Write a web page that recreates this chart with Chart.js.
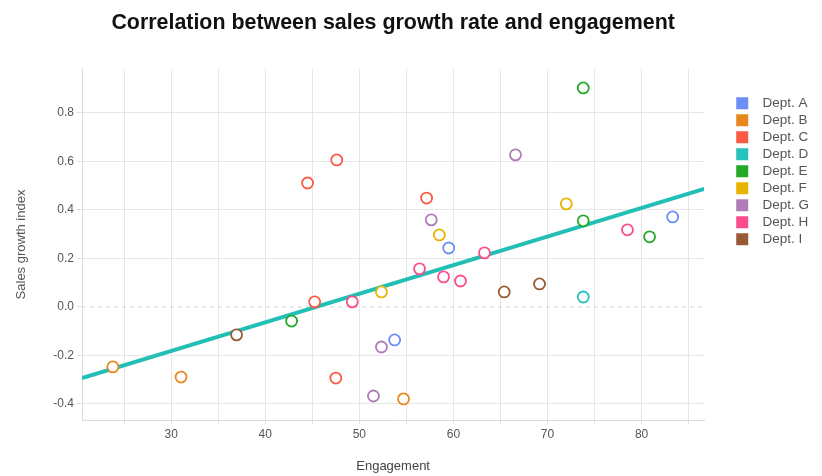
<!DOCTYPE html>
<html>
<head>
<meta charset="utf-8">
<script src="https://cdn.jsdelivr.net/npm/chart.js@4"></script>
<style>
  html, body { margin: 0; padding: 0; background: #fff; }
  #wrap { width: 822px; height: 476px; }
</style>
</head>
<body>
<div id="wrap"><canvas id="scatterChart"></canvas></div>
<script>
// Departamentos y colores
var depts = ['Dept. A', 'Dept. B', 'Dept. C', 'Dept. D', 'Dept. E', 'Dept. F', 'Dept. G', 'Dept. H', 'Dept. I'];
var colors = ['#6b8ff7', '#e8871e', '#fb5a45', '#26c2bd', '#23a828', '#e8b400', '#b07cb8', '#fb4d8e', '#985a36'];

// Engagement (x) por departamento
var engagement = [
    [59.5, 53.75, 83.3],
    [23.8, 31.05, 54.7],
    [44.5, 47.6, 57.15, 45.25, 47.5],
    [73.8],
    [73.8, 73.8, 80.85, 42.8],
    [58.5, 52.35, 72.0],
    [57.65, 66.6, 52.35, 51.5],
    [56.4, 58.95, 60.75, 63.3, 49.25, 78.5],
    [36.95, 65.4, 69.15]
];

// Sales growth index (y) por departamento
var salesIndex = [
    [0.243, -0.136, 0.371],
    [-0.247, -0.289, -0.379],
    [0.511, 0.606, 0.449, 0.021, -0.293],
    [0.041],
    [0.903, 0.355, 0.289, -0.058],
    [0.297, 0.062, 0.425],
    [0.359, 0.627, -0.165, -0.367],
    [0.157, 0.124, 0.107, 0.223, 0.021, 0.318],
    [-0.115, 0.062, 0.095]
];

// Linea de tendencia y rango de ejes
var trendX = [20.52, 86.66];
var trendY = [-0.293, 0.487];
var xRange = [20.52, 86.66];
var yRange = [-0.466, 0.981];

document.addEventListener("DOMContentLoaded", function() {
    var datasets = depts.map(function(name, i) {
        return {
            label: name,
            data: engagement[i].map(function(x, j) { return {x: x, y: salesIndex[i][j]}; }),
            borderColor: colors[i],
            backgroundColor: '#ffffff',
            pointRadius: 5.5,
            pointHoverRadius: 5.5,
            pointBorderWidth: 1.8,
            showLine: false,
            order: 0
        };
    });

    datasets.push({
        label: 'trend',
        type: 'line',
        data: trendX.map(function(x, j) { return {x: x, y: trendY[j]}; }),
        borderColor: '#22bfb6',
        borderWidth: 4,
        pointRadius: 0,
        fill: false,
        order: 1
    });

    datasets.push({
        label: 'zero',
        type: 'line',
        data: xRange.map(function(x) { return {x: x, y: 0}; }),
        borderColor: '#d6d6d6',
        borderWidth: 1,
        borderDash: [4, 4],
        pointRadius: 0,
        fill: false,
        order: 2
    });

    var font = "'Liberation Sans', Arial, sans-serif";

    new Chart(document.getElementById('scatterChart'), {
        type: 'scatter',
        data: { datasets: datasets },
        options: {
            responsive: true,
            maintainAspectRatio: false,
            animation: false,
            layout: { padding: { right: 3 } },
            plugins: {
                tooltip: { enabled: false },
                title: {
                    display: true,
                    fullSize: false,
                    text: 'Correlation between sales growth rate and engagement',
                    color: '#111',
                    font: { family: font, size: 21.4, weight: 'bold' },
                    padding: { top: 10, bottom: 33.3 }
                },
                legend: {
                    position: 'right',
                    align: 'start',
                    fullSize: false,
                    title: { display: true, text: ' ', font: { size: 10 }, padding: { top: 0, bottom: 12 } },
                    labels: {
                        boxWidth: 12,
                        boxHeight: 12,
                        padding: 3.5,
                        color: '#555',
                        font: { family: font, size: 13.5 },
                        generateLabels: function(chart) {
                            return Chart.defaults.plugins.legend.labels.generateLabels(chart)
                                .filter(function(it) { return it.datasetIndex < depts.length; })
                                .map(function(it) {
                                    it.fillStyle = colors[it.datasetIndex];
                                    it.strokeStyle = colors[it.datasetIndex];
                                    it.lineWidth = 0;
                                    it.text = '  ' + it.text;
                                    return it;
                                });
                        }
                    }
                }
            },
            scales: {
                x: {
                    type: 'linear',
                    min: xRange[0],
                    max: xRange[1],
                    afterFit: function(s) { s.height = 56; },
                    grid: { color: '#e6e6e6', tickLength: 4, tickColor: '#e0e0e0' },
                    border: { color: '#dcdcdc' },
                    ticks: {
                        stepSize: 5,
                        includeBounds: false,
                        autoSkip: false,
                        maxRotation: 0,
                        padding: 3,
                        color: '#555',
                        font: { family: font, size: 12 },
                        callback: function(v) { return v % 10 === 0 ? String(v) : ''; }
                    },
                    title: {
                        display: true,
                        text: 'Engagement',
                        color: '#444',
                        font: { family: font, size: 13 },
                        padding: { top: 0, bottom: 2 }
                    }
                },
                y: {
                    min: yRange[0],
                    max: yRange[1],
                    afterFit: function(s) { s.width = 82; },
                    grid: {
                        color: function(ctx) { return ctx.tick && ctx.tick.value === 0 ? 'rgba(0,0,0,0)' : '#e6e6e6'; },
                        tickLength: 5,
                        tickColor: '#e0e0e0'
                    },
                    border: { color: '#dcdcdc' },
                    ticks: {
                        stepSize: 0.2,
                        includeBounds: false,
                        padding: 3,
                        color: '#555',
                        font: { family: font, size: 12 },
                        callback: function(v) { return (Math.abs(v) < 1e-9 ? 0 : v).toFixed(1); }
                    },
                    title: {
                        display: true,
                        text: 'Sales growth index',
                        color: '#555',
                        font: { family: font, size: 13 },
                        padding: { top: 14, bottom: 0 }
                    }
                },
                gap: {
                    axis: 'y',
                    position: 'right',
                    afterFit: function(s) { s.width = 28.5; },
                    grid: { display: false },
                    border: { display: false },
                    ticks: { display: false }
                }
            }
        }
    });
});
</script>
</body>
</html>
